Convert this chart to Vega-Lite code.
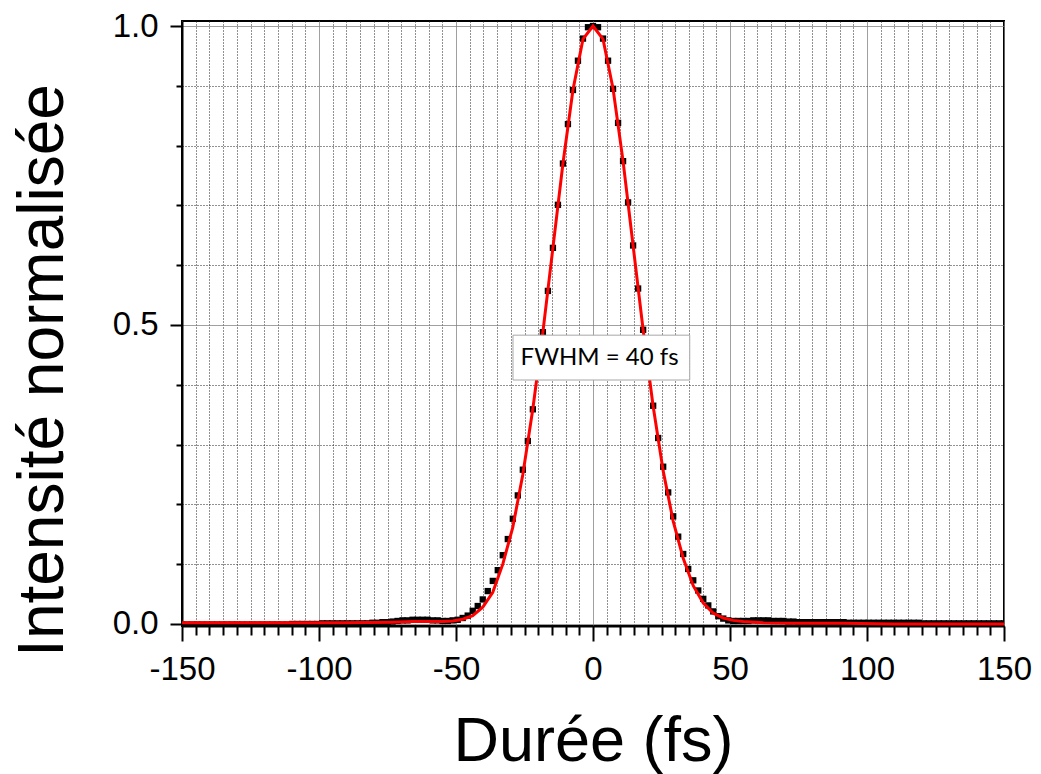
{
  "$schema": "https://vega.github.io/schema/vega-lite/v6.json",
  "width": 822,
  "height": 605,
  "autosize": {"type": "none"},
  "padding": {"left": 182, "top": 21, "right": 37, "bottom": 148},
  "background": "white",
  "config": {
    "view": {"stroke": "#000000", "strokeWidth": 2},
    "font": "Liberation Sans"
  },
  "datasets": {
    "pts": [
      {"t": -149.98, "v": -0.001}, {"t": -148.15, "v": -0.001}, {"t": -146.32, "v": -0.001}, {"t": -144.49, "v": -0.001},
      {"t": -142.66, "v": -0.001}, {"t": -140.83, "v": -0.001}, {"t": -139.00, "v": -0.001}, {"t": -137.18, "v": -0.001},
      {"t": -135.35, "v": -0.001}, {"t": -133.52, "v": -0.001}, {"t": -131.69, "v": -0.001}, {"t": -129.86, "v": -0.001},
      {"t": -128.03, "v": -0.001}, {"t": -126.20, "v": -0.001}, {"t": -124.37, "v": -0.001}, {"t": -122.54, "v": -0.001},
      {"t": -120.71, "v": -0.001}, {"t": -118.89, "v": -0.001}, {"t": -117.06, "v": -0.001}, {"t": -115.23, "v": -0.001},
      {"t": -113.40, "v": -0.001}, {"t": -111.57, "v": -0.001}, {"t": -109.74, "v": 0.000}, {"t": -107.91, "v": 0.000},
      {"t": -106.08, "v": 0.000}, {"t": -104.25, "v": 0.000}, {"t": -102.42, "v": 0.000}, {"t": -100.60, "v": 0.000},
      {"t": -98.77, "v": 0.001}, {"t": -96.94, "v": 0.001}, {"t": -95.11, "v": 0.001}, {"t": -93.28, "v": 0.001},
      {"t": -91.45, "v": 0.001}, {"t": -89.62, "v": 0.001}, {"t": -87.79, "v": 0.001}, {"t": -85.96, "v": 0.001},
      {"t": -84.13, "v": 0.001}, {"t": -82.31, "v": 0.001}, {"t": -80.48, "v": 0.002}, {"t": -78.65, "v": 0.002},
      {"t": -76.82, "v": 0.003}, {"t": -74.99, "v": 0.003}, {"t": -73.16, "v": 0.004}, {"t": -71.33, "v": 0.005},
      {"t": -69.50, "v": 0.006}, {"t": -67.67, "v": 0.006}, {"t": -65.84, "v": 0.007}, {"t": -64.02, "v": 0.007},
      {"t": -62.19, "v": 0.007}, {"t": -60.36, "v": 0.007}, {"t": -58.53, "v": 0.006}, {"t": -56.70, "v": 0.006},
      {"t": -54.87, "v": 0.005}, {"t": -53.04, "v": 0.005}, {"t": -51.21, "v": 0.006}, {"t": -49.38, "v": 0.007},
      {"t": -47.55, "v": 0.010}, {"t": -45.73, "v": 0.014}, {"t": -43.90, "v": 0.022}, {"t": -42.07, "v": 0.030},
      {"t": -40.24, "v": 0.041}, {"t": -38.41, "v": 0.055}, {"t": -36.58, "v": 0.072}, {"t": -34.75, "v": 0.090},
      {"t": -32.92, "v": 0.115}, {"t": -31.09, "v": 0.142}, {"t": -29.26, "v": 0.176}, {"t": -27.44, "v": 0.215},
      {"t": -25.61, "v": 0.258}, {"t": -23.78, "v": 0.306}, {"t": -21.95, "v": 0.359}, {"t": -20.12, "v": 0.420},
      {"t": -18.29, "v": 0.488}, {"t": -16.46, "v": 0.557}, {"t": -14.63, "v": 0.629}, {"t": -12.80, "v": 0.701},
      {"t": -10.97, "v": 0.770}, {"t": -9.15, "v": 0.836}, {"t": -7.32, "v": 0.893}, {"t": -5.49, "v": 0.942},
      {"t": -3.66, "v": 0.979}, {"t": -1.83, "v": 0.998}, {"t": 0.00, "v": 1.000},
      {"t": 1.83, "v": 0.998}, {"t": 3.66, "v": 0.979}, {"t": 5.49, "v": 0.942}, {"t": 7.32, "v": 0.895},
      {"t": 9.15, "v": 0.838}, {"t": 10.97, "v": 0.774}, {"t": 12.80, "v": 0.705}, {"t": 14.63, "v": 0.633},
      {"t": 16.46, "v": 0.561}, {"t": 18.29, "v": 0.492}, {"t": 20.12, "v": 0.425}, {"t": 21.95, "v": 0.365},
      {"t": 23.78, "v": 0.311}, {"t": 25.61, "v": 0.263}, {"t": 27.44, "v": 0.220}, {"t": 29.26, "v": 0.180},
      {"t": 31.09, "v": 0.146}, {"t": 32.92, "v": 0.117}, {"t": 34.75, "v": 0.092}, {"t": 36.58, "v": 0.073},
      {"t": 38.41, "v": 0.056}, {"t": 40.24, "v": 0.042}, {"t": 42.07, "v": 0.031}, {"t": 43.90, "v": 0.021},
      {"t": 45.73, "v": 0.013}, {"t": 47.55, "v": 0.009}, {"t": 49.38, "v": 0.006}, {"t": 51.21, "v": 0.005},
      {"t": 53.04, "v": 0.005}, {"t": 54.87, "v": 0.005}, {"t": 56.70, "v": 0.005}, {"t": 58.53, "v": 0.006},
      {"t": 60.36, "v": 0.006}, {"t": 62.19, "v": 0.006}, {"t": 64.02, "v": 0.006}, {"t": 65.84, "v": 0.005},
      {"t": 67.67, "v": 0.005}, {"t": 69.50, "v": 0.005}, {"t": 71.33, "v": 0.004}, {"t": 73.16, "v": 0.004},
      {"t": 74.99, "v": 0.003}, {"t": 76.82, "v": 0.003}, {"t": 78.65, "v": 0.003}, {"t": 80.48, "v": 0.003},
      {"t": 82.31, "v": 0.003}, {"t": 84.13, "v": 0.003}, {"t": 85.96, "v": 0.003}, {"t": 87.79, "v": 0.003},
      {"t": 89.62, "v": 0.003}, {"t": 91.45, "v": 0.003}, {"t": 93.28, "v": 0.002}, {"t": 95.11, "v": 0.002},
      {"t": 96.94, "v": 0.002}, {"t": 98.77, "v": 0.002}, {"t": 100.60, "v": 0.002}, {"t": 102.42, "v": 0.002},
      {"t": 104.25, "v": 0.002}, {"t": 106.08, "v": 0.002}, {"t": 107.91, "v": 0.002}, {"t": 109.74, "v": 0.002},
      {"t": 111.57, "v": 0.002}, {"t": 113.40, "v": 0.002}, {"t": 115.23, "v": 0.002}, {"t": 117.06, "v": 0.002},
      {"t": 118.89, "v": 0.002}, {"t": 120.71, "v": 0.001}, {"t": 122.54, "v": 0.001}, {"t": 124.37, "v": 0.001},
      {"t": 126.20, "v": 0.001}, {"t": 128.03, "v": 0.001}, {"t": 129.86, "v": 0.001}, {"t": 131.69, "v": 0.001},
      {"t": 133.52, "v": 0.001}, {"t": 135.35, "v": 0.001}, {"t": 137.18, "v": 0.001}, {"t": 139.00, "v": 0.001},
      {"t": 140.83, "v": 0.001}, {"t": 142.66, "v": 0.001}, {"t": 144.49, "v": 0.001}, {"t": 146.32, "v": 0.001},
      {"t": 148.15, "v": 0.001}, {"t": 149.98, "v": 0.001}
    ],
    "fit": [
      {"t": -149.98, "v": 0.002}, {"t": -128.03, "v": 0.002}, {"t": -109.74, "v": 0.002}, {"t": -91.45, "v": 0.002},
      {"t": -73.16, "v": 0.003}, {"t": -65.84, "v": 0.004}, {"t": -58.53, "v": 0.004}, {"t": -54.87, "v": 0.004},
      {"t": -51.21, "v": 0.005}, {"t": -47.55, "v": 0.008}, {"t": -43.90, "v": 0.014}, {"t": -40.24, "v": 0.028},
      {"t": -36.58, "v": 0.053}, {"t": -32.92, "v": 0.100}, {"t": -29.26, "v": 0.162}, {"t": -25.61, "v": 0.250},
      {"t": -21.95, "v": 0.360}, {"t": -18.29, "v": 0.488}, {"t": -14.63, "v": 0.629}, {"t": -10.97, "v": 0.770},
      {"t": -7.32, "v": 0.893}, {"t": -3.66, "v": 0.978}, {"t": 0.00, "v": 1.000}, {"t": 3.66, "v": 0.978},
      {"t": 7.32, "v": 0.895}, {"t": 10.97, "v": 0.774}, {"t": 14.63, "v": 0.633}, {"t": 18.29, "v": 0.492},
      {"t": 21.95, "v": 0.364}, {"t": 25.61, "v": 0.256}, {"t": 29.26, "v": 0.172}, {"t": 32.92, "v": 0.110},
      {"t": 36.58, "v": 0.064}, {"t": 40.24, "v": 0.035}, {"t": 43.90, "v": 0.018}, {"t": 47.55, "v": 0.010},
      {"t": 51.21, "v": 0.006}, {"t": 54.87, "v": 0.004}, {"t": 62.19, "v": 0.002}, {"t": 73.16, "v": 0.001},
      {"t": 91.45, "v": 0.001}, {"t": 109.74, "v": 0.000}, {"t": 149.98, "v": 0.000}
    ]
  },
  "layer": [
    {
      "data": {"name": "pts"},
      "mark": {"type": "point", "shape": "square", "filled": true, "size": 40, "color": "#000000", "opacity": 1, "clip": true},
      "encoding": {
        "x": {
          "field": "t",
          "type": "quantitative",
          "scale": {"domain": [-150, 150], "nice": false, "zero": false},
          "axis": {
            "title": "Durée (fs)",
            "titleFont": "Liberation Sans",
            "titleFontSize": 63,
            "titleFontWeight": "normal",
            "titleColor": "#000000",
            "titleBaseline": "alphabetic",
            "titleY": 134,
            "tickCount": 100,
            "values": [-150,-145,-140,-135,-130,-125,-120,-115,-110,-105,-100,-95,-90,-85,-80,-75,-70,-65,-60,-55,-50,-45,-40,-35,-30,-25,-20,-15,-10,-5,0,5,10,15,20,25,30,35,40,45,50,55,60,65,70,75,80,85,90,95,100,105,110,115,120,125,130,135,140,145,150],
            "labelExpr": "datum.value % 50 === 0 ? '' + datum.value : ''",
            "labelFont": "Liberation Sans",
            "labelFontSize": 33,
            "labelColor": "#000000",
            "labelOverlap": false,
            "labelFlush": false,
            "labelBaseline": "top",
            "labelPadding": 12,
            "domainColor": "#000000",
            "domainWidth": 2,
            "tickColor": "#000000",
            "tickWidth": 2,
            "tickSize": {"condition": {"test": "datum.value % 50 === 0", "value": 15}, "value": 9},
            "grid": true,
            "gridColor": {"condition": {"test": "datum.value % 50 === 0", "value": "#808080"}, "value": "#222222"},
            "gridDash": {"condition": {"test": "datum.value % 50 === 0", "value": [1, 0]}, "value": [1, 2]},
            "gridWidth": 1
          }
        },
        "y": {
          "field": "v",
          "type": "quantitative",
          "scale": {"domain": [-0.0034, 1.0084], "nice": false, "zero": false},
          "axis": {
            "title": "Intensité normalisée",
            "titleFont": "Liberation Sans",
            "titleFontSize": 64,
            "titleFontWeight": "normal",
            "titleColor": "#000000",
            "titleAngle": 270,
            "titleBaseline": "alphabetic",
            "titleAlign": "center",
            "titleX": -120,
            "titleY": 349,
            "tickCount": 100,
            "values": [0, 0.1, 0.2, 0.3, 0.4, 0.5, 0.6, 0.7, 0.8, 0.9, 1.0],
            "labelExpr": "round(datum.value * 10) % 5 === 0 ? format(datum.value, '.1f') : ''",
            "labelFont": "Liberation Sans",
            "labelFontSize": 33,
            "labelColor": "#000000",
            "labelOverlap": false,
            "labelFlush": false,
            "labelPadding": 12,
            "domainColor": "#000000",
            "domainWidth": 2,
            "tickColor": "#000000",
            "tickWidth": 2,
            "tickSize": {"condition": {"test": "round(datum.value * 10) % 5 === 0", "value": 12}, "value": 6},
            "grid": true,
            "gridColor": {"condition": {"test": "round(datum.value * 10) % 5 === 0", "value": "#808080"}, "value": "#222222"},
            "gridDash": {"condition": {"test": "round(datum.value * 10) % 5 === 0", "value": [1, 0]}, "value": [1, 2]},
            "gridWidth": 1
          }
        }
      }
    },
    {
      "data": {"name": "fit"},
      "mark": {"type": "line", "color": "#ff0000", "strokeWidth": 3, "clip": true},
      "encoding": {
        "x": {"field": "t", "type": "quantitative"},
        "y": {"field": "v", "type": "quantitative"}
      }
    },
    {
      "data": {"values": [{"note": "FWHM = 40 fs"}]},
      "mark": {"type": "rect", "fill": "#ffffff", "stroke": "#a6a6a6", "strokeWidth": 1},
      "encoding": {
        "x": {"datum": -29.2, "type": "quantitative"},
        "x2": {"datum": 35.3},
        "y": {"datum": 0.483, "type": "quantitative"},
        "y2": {"datum": 0.408}
      }
    },
    {
      "data": {"values": [{"note": "FWHM = 40 fs"}]},
      "mark": {"type": "text", "font": "Lato", "fontSize": 24, "color": "#000000", "align": "center", "baseline": "middle"},
      "encoding": {
        "x": {"datum": 2.4, "type": "quantitative"},
        "y": {"datum": 0.445, "type": "quantitative"},
        "text": {"field": "note", "type": "nominal"}
      }
    }
  ]
}
